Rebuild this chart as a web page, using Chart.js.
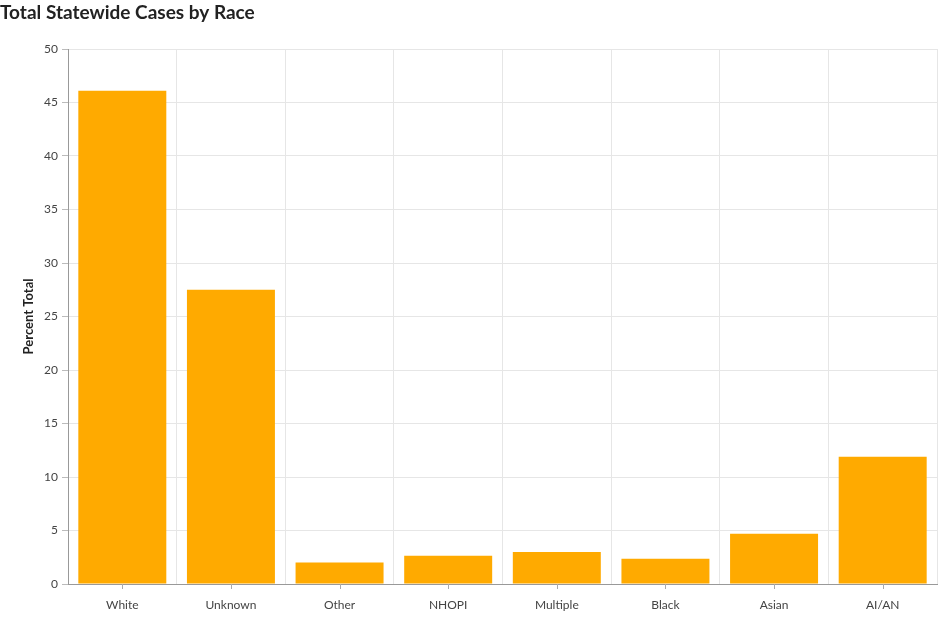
<!DOCTYPE html>
<html>
<head>
<meta charset="utf-8">
<script src="https://cdn.jsdelivr.net/npm/chart.js@4"></script>
<style>
  html, body { margin: 0; padding: 0; background: #fff; }
  #wrap { width: 949px; height: 617px; }
</style>
</head>
<body>
<div id="wrap"><canvas id="c" width="949" height="617"></canvas></div>
<script>
const categories = ["White", "Unknown", "Other", "NHOPI", "Multiple", "Black", "Asian", "AI/AN"];
const percentTotal = [46.1, 27.5, 2.0, 2.65, 3.0, 2.35, 4.7, 11.9];
const yTicks = [0, 5, 10, 15, 20, 25, 30, 35, 40, 45, 50];
const titleText = "Total Statewide Cases by Race";
const yAxisTitle = "Percent Total";

const FONT = "Lato, 'Noto Sans', sans-serif";

const centerTicks = {
  id: 'centerTicks',
  afterDatasetsDraw(chart) {
    const sx = chart.scales.x;
    const ctx = chart.ctx;
    ctx.save();
    ctx.strokeStyle = '#aaaaaa';
    ctx.lineWidth = 1;
    for (let i = 0; i < sx.ticks.length; i++) {
      const x = Math.round(sx.getPixelForTick(i)) + 0.5;
      ctx.beginPath();
      ctx.moveTo(x, sx.top);
      ctx.lineTo(x, sx.top + 5);
      ctx.stroke();
    }
    ctx.restore();
  }
};

new Chart(document.getElementById('c'), {
  type: 'bar',
  data: {
    labels: categories,
    datasets: [{
      label: yAxisTitle,
      data: percentTotal,
      backgroundColor: '#FFAA00',
      borderWidth: 0,
      barPercentage: 1.0,
      categoryPercentage: 0.81
    }]
  },
  options: {
    responsive: false,
    animation: false,
    layout: { padding: { left: 0, right: 12, top: 0, bottom: 0 } },
    plugins: {
      legend: { display: false },
      tooltip: { enabled: false },
      title: {
        display: true,
        text: titleText,
        align: 'start',
        color: '#222222',
        font: { family: FONT, size: 19, weight: 'bold', lineHeight: 1.2 },
        padding: { top: 1, bottom: 25.2 }
      }
    },
    scales: {
      x: {
        grid: { offset: true, color: '#e6e6e6', drawTicks: false },
        border: { color: '#999999' },
        ticks: { color: '#444444', padding: 14, font: { family: FONT, size: 12 } },
        afterFit(scale) { scale.height = 33; }
      },
      y: {
        min: 0,
        max: 50,
        afterBuildTicks(scale) { scale.ticks = yTicks.map(v => ({ value: v })); },
        grid: { color: '#e6e6e6', tickColor: '#bbbbbb', tickLength: 6 },
        border: { color: '#999999' },
        ticks: { color: '#444444', padding: 4, font: { family: FONT, size: 12 } },
        title: {
          display: true,
          text: yAxisTitle,
          color: '#222222',
          font: { family: FONT, size: 13, weight: 'bold', lineHeight: 1.2 },
          padding: { top: 21, bottom: 0 }
        },
        afterFit(scale) { scale.width = 68; }
      }
    }
  },
  plugins: [centerTicks]
});
</script>
</body>
</html>
